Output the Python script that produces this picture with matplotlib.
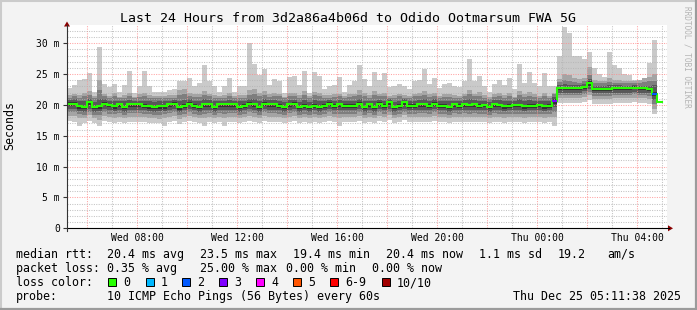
import numpy as np
import matplotlib
matplotlib.use("Agg")
from matplotlib import pyplot as plt
from matplotlib.patches import Rectangle, Polygon

#
# Data: 12-minute consolidated SmokePing columns, Wed 05:11:38 -> Thu 05:11:38
# ten sorted pings per column (p1 = min, p10 = max), median and loss count
#
t_start = 5 + 11 / 60 + 38 / 3600      # hours since Wed 00:00
col_hours = 0.2                        # 12 minutes per column
nan = np.nan

median = [20.2, 20.2, 19.8, 19.7, 20.4, 19.7, 19.8, 20.2, 20.0, 19.8, 20.1, 19.7, 20.1, 20.1, 20.1, 19.9, 19.8, 19.7, 19.8, 19.8,
          20.1, 20.2, 19.6, 19.9, 20.2, 19.9, 19.7, 20.1, 20.1, 19.7, 20.1, 20.1, 20.1, 20.1, 19.7, 19.9, 20.2, 20.1, 19.7, 20.2,
          20.1, 20.1, 19.9, 19.7, 20.1, 20.2, 19.7, 19.9, 19.7, 19.9, 19.7, 19.9, 20.2, 19.9, 20.1, 19.9, 19.9, 19.9, 20.2, 19.7,
          20.1, 19.7, 20.2, 19.9, 20.4, 19.7, 19.9, 20.4, 19.9, 19.9, 20.1, 20.1, 19.9, 20.2, 19.9, 19.9, 19.7, 20.1, 19.9, 20.1,
          20.0, 20.1, 19.9, 20.0, 19.7, 20.1, 20.0, 19.8, 19.9, 20.0, 20.0, 19.8, 19.9, 19.9, 20.0, 19.8, 19.9, 20.7, 22.7, 22.7,
          22.7, 22.7, 22.7, 22.9, 23.6, 22.6, 22.6, 22.6, 22.6, 22.7, 22.7, 22.7, 22.7, 22.8, 22.7, 22.7, 22.6, 21.8, 20.4, nan]

p10 = [22.7, 23.2, 24.0, 24.2, 25.2, 22.1, 29.4, 23.4, 22.9, 23.4, 22.1, 23.2, 25.5, 22.0, 23.1, 25.5, 23.1, 22.1, 22.1, 22.1,
       22.4, 22.5, 23.9, 23.9, 24.3, 23.1, 23.6, 26.5, 23.8, 23.0, 22.1, 23.1, 24.3, 22.1, 23.0, 23.1, 30.0, 26.6, 24.8, 25.9,
       23.2, 24.2, 23.8, 21.9, 24.6, 24.7, 23.2, 25.5, 22.0, 25.4, 24.7, 22.5, 23.1, 23.2, 24.5, 22.1, 23.2, 23.9, 26.5, 24.2,
       23.0, 25.4, 24.0, 25.1, 22.9, 23.1, 23.4, 23.1, 22.5, 23.8, 24.0, 25.9, 23.4, 24.3, 22.7, 23.4, 23.6, 23.1, 22.9, 23.9,
       27.4, 23.8, 24.7, 23.0, 22.1, 23.4, 24.1, 23.2, 24.3, 22.5, 26.7, 23.6, 25.4, 23.6, 23.0, 25.2, 23.0, 23.0, 28.0, 32.6,
       31.6, 28.0, 28.0, 27.5, 28.5, 26.0, 25.0, 24.5, 28.6, 26.5, 26.0, 25.0, 24.8, 24.0, 24.0, 24.0, 26.8, 30.5, 31.0, nan]

p9 = [21.6, 21.8, 21.6, 21.9, 22.2, 21.4, 24.1, 21.8, 21.5, 21.9, 21.3, 21.6, 22.0, 21.3, 21.7, 21.9, 21.6, 21.4, 21.4, 21.4,
      21.6, 21.6, 22.4, 22.6, 22.0, 21.7, 21.8, 22.3, 21.8, 21.6, 21.4, 21.6, 21.9, 21.4, 21.6, 21.6, 22.4, 22.6, 21.9, 22.2,
      21.7, 21.9, 21.8, 21.3, 22.0, 22.0, 21.6, 22.2, 21.4, 22.1, 21.9, 21.6, 21.6, 21.7, 21.8, 21.4, 21.7, 21.8, 22.4, 21.9,
      21.6, 22.2, 21.8, 22.0, 21.5, 21.6, 21.8, 21.6, 21.5, 21.8, 21.9, 22.3, 21.7, 21.9, 21.4, 21.7, 21.8, 21.6, 21.5, 21.8,
      22.4, 21.8, 22.1, 21.6, 21.3, 21.7, 21.9, 21.6, 21.9, 21.3, 22.3, 21.7, 22.1, 21.7, 21.5, 22.0, 21.5, 21.9, 24.2, 25.0,
      24.8, 24.3, 24.2, 24.4, 26.2, 24.1, 23.9, 23.9, 24.4, 24.1, 24.0, 23.9, 23.9, 23.8, 24.1, 24.3, 24.6, 25.0, 26.0, nan]

p8 = [21.2, 21.4, 21.2, 21.4, 21.6, 21.1, 22.4, 21.4, 21.2, 21.4, 21.1, 21.2, 21.5, 21.1, 21.3, 21.4, 21.2, 21.1, 21.1, 21.1,
      21.2, 21.2, 21.6, 21.7, 21.5, 21.3, 21.3, 21.6, 21.4, 21.2, 21.1, 21.2, 21.5, 21.1, 21.2, 21.2, 21.6, 21.8, 21.4, 21.6,
      21.3, 21.5, 21.4, 21.1, 21.5, 21.5, 21.2, 21.6, 21.1, 21.6, 21.5, 21.2, 21.2, 21.3, 21.4, 21.1, 21.3, 21.4, 21.6, 21.4,
      21.2, 21.6, 21.4, 21.5, 21.2, 21.2, 21.4, 21.2, 21.2, 21.4, 21.4, 21.6, 21.3, 21.4, 21.1, 21.3, 21.3, 21.2, 21.2, 21.4,
      21.7, 21.4, 21.5, 21.2, 21.0, 21.3, 21.4, 21.2, 21.4, 21.1, 21.6, 21.3, 21.5, 21.3, 21.2, 21.5, 21.2, 21.8, 23.7, 24.0,
      23.9, 23.7, 23.6, 23.8, 24.8, 23.6, 23.5, 23.5, 23.7, 23.6, 23.6, 23.5, 23.5, 23.5, 23.6, 23.7, 23.8, 23.9, 23.0, nan]

p7 = [20.8, 20.9, 20.6, 20.6, 21.0, 20.5, 20.9, 20.9, 20.7, 20.7, 20.7, 20.6, 20.8, 20.7, 20.7, 20.7, 20.6, 20.5, 20.6, 20.6,
      20.7, 20.8, 20.6, 20.8, 20.9, 20.7, 20.6, 20.9, 20.8, 20.6, 20.7, 20.7, 20.8, 20.7, 20.6, 20.7, 20.9, 20.9, 20.6, 20.9,
      20.8, 20.8, 20.7, 20.5, 20.8, 20.8, 20.5, 20.8, 20.5, 20.8, 20.6, 20.6, 20.8, 20.7, 20.8, 20.6, 20.7, 20.7, 20.9, 20.6,
      20.7, 20.7, 20.8, 20.7, 20.9, 20.5, 20.7, 20.9, 20.6, 20.7, 20.8, 20.9, 20.7, 20.9, 20.6, 20.7, 20.6, 20.7, 20.6, 20.8,
      20.9, 20.8, 20.7, 20.7, 20.4, 20.8, 20.8, 20.6, 20.7, 20.6, 20.9, 20.6, 20.8, 20.7, 20.7, 20.7, 20.6, 21.3, 23.2, 23.4,
      23.3, 23.2, 23.2, 23.4, 24.2, 23.1, 23.1, 23.1, 23.2, 23.2, 23.2, 23.1, 23.1, 23.2, 23.1, 23.1, 23.1, 23.2, 22.0, nan]

p6 = [20.4, 20.4, 20.0, 19.9, 20.6, 19.9, 20.0, 20.4, 20.2, 20.0, 20.3, 19.9, 20.3, 20.3, 20.3, 20.1, 20.0, 19.9, 20.0, 20.0,
      20.3, 20.4, 19.8, 20.1, 20.4, 20.1, 19.9, 20.3, 20.3, 19.9, 20.3, 20.3, 20.3, 20.3, 19.9, 20.1, 20.4, 20.3, 19.9, 20.4,
      20.3, 20.3, 20.1, 19.9, 20.3, 20.4, 19.9, 20.1, 19.9, 20.1, 19.9, 20.1, 20.4, 20.1, 20.3, 20.1, 20.1, 20.1, 20.4, 19.9,
      20.3, 19.9, 20.4, 20.1, 20.6, 19.9, 20.1, 20.6, 20.1, 20.1, 20.3, 20.3, 20.1, 20.4, 20.1, 20.1, 19.9, 20.3, 20.1, 20.3,
      20.2, 20.3, 20.1, 20.2, 19.9, 20.3, 20.2, 20.0, 20.1, 20.2, 20.2, 20.0, 20.1, 20.1, 20.2, 20.0, 20.1, 20.9, 22.9, 22.9,
      22.9, 22.9, 22.9, 23.1, 23.8, 22.8, 22.8, 22.8, 22.8, 22.9, 22.9, 22.9, 22.9, 23.0, 22.9, 22.9, 22.8, 22.1, 20.7, nan]

p5 = [19.8, 19.8, 19.4, 19.3, 20.0, 19.3, 19.4, 19.8, 19.6, 19.4, 19.7, 19.3, 19.7, 19.7, 19.7, 19.5, 19.4, 19.3, 19.4, 19.4,
      19.7, 19.8, 19.2, 19.5, 19.8, 19.5, 19.3, 19.7, 19.7, 19.3, 19.7, 19.7, 19.7, 19.7, 19.3, 19.5, 19.8, 19.7, 19.3, 19.8,
      19.7, 19.7, 19.5, 19.3, 19.7, 19.8, 19.3, 19.5, 19.3, 19.5, 19.3, 19.5, 19.8, 19.5, 19.7, 19.5, 19.5, 19.5, 19.8, 19.3,
      19.7, 19.3, 19.8, 19.5, 20.0, 19.3, 19.5, 20.0, 19.5, 19.5, 19.7, 19.7, 19.5, 19.8, 19.5, 19.5, 19.3, 19.7, 19.5, 19.7,
      19.6, 19.7, 19.5, 19.6, 19.3, 19.7, 19.6, 19.4, 19.5, 19.6, 19.6, 19.4, 19.5, 19.5, 19.6, 19.4, 19.5, 20.2, 22.4, 22.4,
      22.4, 22.4, 22.4, 22.6, 23.1, 22.3, 22.3, 22.3, 22.3, 22.4, 22.4, 22.4, 22.4, 22.5, 22.4, 22.4, 22.3, 21.4, 19.9, nan]

p4 = [19.3, 19.3, 19.0, 18.9, 19.4, 18.9, 19.0, 19.3, 19.1, 19.0, 19.2, 18.9, 19.2, 19.2, 19.2, 19.1, 19.0, 18.9, 19.0, 19.0,
      19.2, 19.3, 18.8, 19.1, 19.3, 19.1, 18.9, 19.2, 19.2, 18.9, 19.2, 19.2, 19.2, 19.2, 18.9, 19.1, 19.3, 19.2, 18.9, 19.3,
      19.2, 19.2, 19.1, 18.9, 19.2, 19.3, 18.9, 19.1, 18.9, 19.1, 18.9, 19.1, 19.3, 19.1, 19.2, 19.1, 19.1, 19.1, 19.3, 18.9,
      19.2, 18.9, 19.3, 19.1, 19.4, 18.9, 19.1, 19.4, 19.1, 19.1, 19.2, 19.2, 19.1, 19.3, 19.1, 19.1, 18.9, 19.2, 19.1, 19.2,
      19.1, 19.2, 19.1, 19.1, 18.9, 19.2, 19.1, 19.0, 19.1, 19.1, 19.1, 19.0, 19.1, 19.1, 19.1, 19.0, 19.1, 19.6, 22.0, 22.0,
      22.0, 22.0, 22.0, 22.2, 22.6, 21.9, 21.9, 21.9, 21.9, 22.0, 22.0, 22.0, 22.0, 22.1, 22.0, 22.0, 21.9, 20.8, 19.2, nan]

p3 = [18.8, 18.8, 18.5, 18.4, 18.9, 18.4, 18.3, 18.8, 18.6, 18.5, 18.7, 18.4, 18.7, 18.7, 18.7, 18.6, 18.5, 18.4, 18.4, 18.5,
      18.7, 18.8, 18.3, 18.6, 18.8, 18.6, 18.4, 18.6, 18.7, 18.4, 18.7, 18.6, 18.7, 18.7, 18.4, 18.6, 18.8, 18.7, 18.4, 18.8,
      18.7, 18.7, 18.6, 18.4, 18.7, 18.8, 18.4, 18.6, 18.4, 18.6, 18.4, 18.6, 18.8, 18.6, 18.6, 18.6, 18.6, 18.6, 18.8, 18.4,
      18.7, 18.4, 18.8, 18.6, 18.9, 18.4, 18.6, 18.9, 18.6, 18.6, 18.7, 18.7, 18.6, 18.8, 18.6, 18.6, 18.4, 18.7, 18.6, 18.7,
      18.6, 18.7, 18.6, 18.6, 18.4, 18.7, 18.6, 18.5, 18.6, 18.6, 18.6, 18.5, 18.6, 18.6, 18.6, 18.5, 18.6, 18.9, 21.6, 21.6,
      21.6, 21.6, 21.6, 21.8, 22.1, 21.5, 21.5, 21.5, 21.5, 21.6, 21.6, 21.6, 21.6, 21.7, 21.6, 21.6, 21.5, 20.1, 18.5, nan]

p2 = [18.2, 18.2, 17.8, 17.8, 18.3, 17.8, 17.6, 18.2, 18.0, 17.9, 18.1, 17.8, 18.1, 18.1, 18.1, 18.0, 17.9, 17.8, 17.7, 17.9,
      18.1, 18.2, 17.7, 18.0, 18.2, 18.0, 17.8, 17.9, 18.1, 17.8, 18.1, 17.9, 18.1, 18.1, 17.8, 18.0, 18.2, 18.1, 17.8, 18.2,
      18.1, 18.1, 18.0, 17.8, 18.1, 18.2, 17.8, 18.0, 17.8, 18.0, 17.8, 18.0, 18.2, 18.0, 17.9, 18.0, 18.0, 18.0, 18.2, 17.8,
      18.1, 17.8, 18.2, 18.0, 18.3, 17.8, 18.0, 18.3, 18.0, 18.0, 18.1, 18.1, 18.0, 18.2, 18.0, 18.0, 17.8, 18.1, 18.0, 18.1,
      18.0, 18.1, 18.0, 18.0, 17.8, 18.1, 18.0, 17.9, 18.0, 18.0, 18.0, 17.9, 18.0, 18.0, 18.0, 17.9, 18.0, 18.1, 21.1, 21.1,
      21.1, 21.1, 21.1, 21.3, 21.6, 21.0, 21.0, 21.0, 21.0, 21.1, 21.1, 21.1, 21.1, 21.2, 21.1, 21.1, 21.0, 19.4, 17.8, nan]

p1 = [17.4, 17.3, 16.6, 17.1, 17.4, 17.1, 16.6, 17.4, 17.2, 17.1, 17.3, 17.0, 17.3, 17.3, 17.3, 17.2, 17.1, 17.0, 17.0, 16.6,
      17.3, 17.4, 16.9, 17.2, 17.4, 17.2, 17.0, 16.6, 17.3, 17.0, 17.3, 16.6, 17.3, 17.3, 17.0, 17.2, 17.4, 17.3, 17.0, 17.4,
      17.3, 17.3, 17.2, 17.0, 17.3, 17.4, 17.0, 17.2, 17.0, 17.2, 17.0, 17.2, 17.4, 17.2, 16.6, 17.2, 17.2, 17.2, 17.4, 17.0,
      17.3, 17.0, 17.4, 17.2, 17.5, 17.0, 17.2, 17.5, 17.2, 17.2, 17.3, 17.3, 17.2, 17.4, 17.2, 17.2, 17.0, 17.3, 17.2, 17.3,
      17.2, 17.3, 17.2, 17.2, 17.0, 17.3, 17.2, 17.1, 17.2, 17.2, 17.2, 17.1, 17.2, 17.2, 17.2, 17.1, 17.2, 16.6, 20.3, 20.3,
      20.3, 20.3, 20.3, 20.5, 20.8, 20.2, 20.2, 20.2, 20.2, 20.3, 20.3, 20.3, 20.3, 20.4, 20.3, 20.3, 20.2, 18.6, 16.9, nan]

# lost pings per column (out of 10)
loss = [0] * 120
loss[97] = 3
loss[117] = 2

loss_labels = ["0", "1", "2", "3", "4", "5", "6-9", "10/10"]
loss_colors = ["#26ff00", "#00b8ff", "#0059ff", "#7e00ff", "#ff00ff", "#ff5500", "#ff0000", "#a10000"]

xtick_hours = [8, 12, 16, 20, 24, 28]
xtick_labels = ["Wed 08:00", "Wed 12:00", "Wed 16:00", "Wed 20:00", "Thu 00:00", "Thu 04:00"]
ytick_values = [0, 5, 10, 15, 20, 25, 30]
ytick_labels = ["0", "5 m", "10 m", "15 m", "20 m", "25 m", "30 m"]

title = "Last 24 Hours from 3d2a86a4b06d to Odido Ootmarsum FWA 5G"
legend_rows = [
    [(16, "median rtt:"), (107, "20.4 ms avg"), (200, "23.5 ms max"), (293, "19.4 ms min"),
     (386, "20.4 ms now"), (479, "1.1 ms sd"), (558, "19.2"), (607, "am/s")],
    [(16, "packet loss:"), (107, "0.35 % avg"), (200, "25.00 % max"), (286.5, "0.00 % min"),
     (372, "0.00 % now")],
    [(16, "loss color:")],
    [(16, "probe:"), (107, "10 ICMP Echo Pings (56 Bytes) every 60s"),
     (513, "Thu Dec 25 05:11:38 2025")],
]
box_x = [108, 145.5, 182, 219, 256, 293, 330, 381.5]

#
# Figure
#
W, H = 697, 310
mono = "DejaVu Sans Mono"
fig = plt.figure(figsize=(W / 100, H / 100), dpi=100)
fig.patch.set_facecolor("#f3f3f3")

x0, x1, y0, y1 = 67, 667, 228.3, 24.7
ax = fig.add_axes([x0 / W, (H - y0) / H, (x1 - x0) / W, (y0 - y1) / H])
ax.set_facecolor("white")
ax.set_xlim(t_start, t_start + 24)
ax.set_ylim(0, 33)
for s in ax.spines.values():
    s.set_visible(False)

# smoke: layers from outside (light) to inside (dark)
edges = t_start + col_hours * np.arange(121)
layers = [(p1, p10, "#cacaca"), (p2, p9, "#a4a4a4"), (p3, p8, "#7e7e7e"),
          (p4, p7, "#585858"), (p5, p6, "#323232")]
for lo, hi, c in layers:
    lo = np.append(lo, lo[-1])
    hi = np.append(hi, hi[-1])
    ax.fill_between(edges, lo, hi, step="post", color=c, linewidth=0, zorder=1)

# grid on top of the smoke
for h in np.arange(5, 30):
    major = h % 2 == 0
    ax.axvline(h, color="#ff8c8c" if major else "#b4b4b4", lw=0.75,
               ls=(0, (1, 1.3)), alpha=0.8, zorder=2)
for v in range(1, 33):
    major = v % 5 == 0
    ax.axhline(v, color="#ff8c8c" if major else "#b4b4b4", lw=0.75,
               ls=(0, (1, 1.3)), alpha=0.8, zorder=2)

# median line coloured by loss
med = np.array(median)
ax.step(edges, np.append(med, med[-1]), where="post", color=loss_colors[0],
        lw=1.5, zorder=3, solid_joinstyle="miter")
for i, n in enumerate(loss):
    if n > 0 and not np.isnan(med[i]):
        ax.hlines(med[i], edges[i], edges[i + 1], color=loss_colors[min(n, 6)],
                  lw=1.5, zorder=4)

ax.set_xticks(xtick_hours)
ax.set_xticklabels(xtick_labels, fontfamily=mono, fontsize=7)
ax.set_yticks(ytick_values)
ax.set_yticklabels(ytick_labels, fontfamily=mono, fontsize=7)
ax.tick_params(axis="x", length=0, pad=3.2)
ax.tick_params(axis="y", length=3, width=0.8, pad=2.2, color="#333333")

#
# Overlay in pixel coordinates for frame, axes arrows and legend
#
ov = fig.add_axes([0, 0, 1, 1], zorder=10)
ov.set_xlim(0, W)
ov.set_ylim(H, 0)
ov.axis("off")
ov.patch.set_alpha(0)

# 3D frame
ov.plot([1, W - 1], [1, 1], color="#cbcbcb", lw=1.5)
ov.plot([1, 1], [1, H - 1], color="#cbcbcb", lw=1.5)
ov.plot([0, W], [H - 1, H - 1], color="#9b9b9b", lw=1.6)
ov.plot([W - 1, W - 1], [0, H], color="#9b9b9b", lw=1.6)

# axes with arrows
ov.plot([x0, 669], [y0, y0], color="black", lw=0.8)
ov.plot([x0, x0], [y0 + 3, 25], color="#333333", lw=0.8)
ov.add_patch(Polygon([[668, y0 - 3], [673, y0], [668, y0 + 3]], closed=True,
                     color="#8b0000", lw=0))
ov.add_patch(Polygon([[x0 - 3, 26.5], [x0, 21.5], [x0 + 3, 26.5]], closed=True,
                     color="#8b0000", lw=0))

ov.text(348, 19, title, fontfamily=mono, fontsize=9.5, ha="center", va="center")
ov.text(10, 125, "Seconds", fontfamily=mono, fontsize=8.4, rotation=90,
        ha="center", va="center")
ov.text(687, 6, "RRDTOOL / TOBI OETIKER", fontfamily=mono, fontsize=5.6,
        rotation=270, ha="center", va="top", color="#b4b4b4")

row_y = [254.3, 268.3, 282.5, 296.3]
for y, row in zip(row_y, legend_rows):
    for x, s in row:
        ov.text(x, y, s, fontfamily=mono, fontsize=8.4, ha="left", va="center")

for x, lab, c in zip(box_x, loss_labels, loss_colors):
    ov.add_patch(Rectangle((x, row_y[2] - 4.3), 8, 8, facecolor=c,
                           edgecolor="black", lw=0.7))
    ov.text(x + 15, row_y[2], lab, fontfamily=mono, fontsize=8.4,
            ha="left", va="center")

fig.savefig("out.png", dpi=100, facecolor=fig.get_facecolor())
